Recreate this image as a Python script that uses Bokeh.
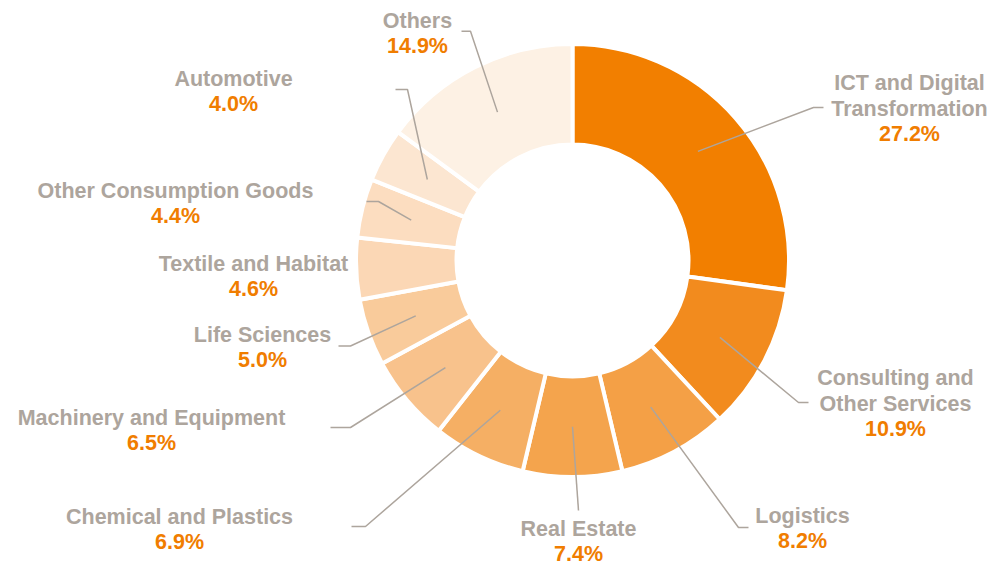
import math
from bokeh.plotting import figure
from bokeh.models import Range1d, ColumnDataSource
from bokeh.core.properties import value
from bokeh.embed import file_html
from bokeh.resources import INLINE

# ---- data ----
categories = ["ICT and Digital Transformation", "Consulting and Other Services", "Logistics",
              "Real Estate", "Chemical and Plastics", "Machinery and Equipment", "Life Sciences",
              "Textile and Habitat", "Other Consumption Goods", "Automotive", "Others"]
label_lines = [["ICT and Digital", "Transformation"], ["Consulting and", "Other Services"], ["Logistics"],
               ["Real Estate"], ["Chemical and Plastics"], ["Machinery and Equipment"], ["Life Sciences"],
               ["Textile and Habitat"], ["Other Consumption Goods"], ["Automotive"], ["Others"]]
shares = [27.2, 10.9, 8.2, 7.4, 6.9, 6.5, 5.0, 4.6, 4.4, 4.0, 14.9]
colors = ["#F27F00", "#F28B1E", "#F4A046", "#F4A44D", "#F5AF64", "#F8C28C", "#F9CB9B",
          "#FBD7B5", "#FCDDC0", "#FCE6D1", "#FDF1E4"]

# ---- layout (page pixel coordinates) ----
W, H = 993, 565
CX, CY = 572, 260
R_IN, R_OUT = 118, 214.5
# label: (center x, first line y); leader: elbow point and end point (None = none)
label_pos = [(909, 82), (895, 377), (802, 515), (578, 528), (179, 516), (151, 417),
             (262, 334), (253, 263), (175, 190), (233, 78), (417, 20)]
leader = [((813, 107), (823, 107)), ((798, 402), (808, 402)), ((738, 527), (748, 527)),
          ((578, 510), None), ((365, 526), (351, 526)), ((350, 427), (330, 427)),
          ((350, 345.5), (338, 345.5)), None, ((378, 201), (366, 201)),
          ((407, 89), (395, 89)), ((470, 30.7), (461, 30.7))]
LINE_SP = 26

def dx(x):
    return x

def dy(y):
    return H - y

GREY = "#ADA59D"
ORANGE = "#F07D00"

p = figure(width=W, height=H, output_backend="svg", toolbar_location=None,
           x_range=Range1d(0, W), y_range=Range1d(0, H), min_border=0)
p.axis.visible = False
p.grid.visible = False
p.outline_line_color = None
p.background_fill_color = "white"

total = sum(shares)
starts, ends, mids = [], [], []
cum = 0.0
for s in shares:
    a0 = math.pi / 2 - 2 * math.pi * cum / total
    cum += s
    a1 = math.pi / 2 - 2 * math.pi * cum / total
    starts.append(a0)
    ends.append(a1)
    mids.append((a0 + a1) / 2)

src = ColumnDataSource(dict(x=[dx(CX)] * len(shares), y=[dy(CY)] * len(shares),
                            start=starts, end=ends, color=colors))
p.annular_wedge(x="x", y="y", inner_radius=R_IN - 2, outer_radius=R_OUT + 2,
                start_angle="start", end_angle="end", direction="clock",
                fill_color="color", line_color="white", line_width=4, source=src)

# leader lines
xs, ys = [], []
r_mid = (R_IN + R_OUT) / 2
for i, ld in enumerate(leader):
    if ld is None:
        continue
    sx = CX + r_mid * math.cos(mids[i])
    sy = CY - r_mid * math.sin(mids[i])
    pts = [(sx, sy), ld[0]] + ([ld[1]] if ld[1] else [])
    xs.append([dx(q[0]) for q in pts])
    ys.append([dy(q[1]) for q in pts])
p.multi_line(xs=xs, ys=ys, line_color=GREY, line_width=1.5)

# labels
tx, ty, tt, tc = [], [], [], []
for i, lines in enumerate(label_lines):
    lx, ly = label_pos[i]
    for j, t in enumerate(lines):
        tx.append(dx(lx)); ty.append(dy(ly + j * LINE_SP)); tt.append(t); tc.append(GREY)
    tx.append(dx(lx)); ty.append(dy(ly + len(lines) * LINE_SP - 1)); tt.append(f"{shares[i]:.1f}%"); tc.append(ORANGE)

p.text(x=tx, y=ty, text=tt, text_color=tc, text_font=value("Liberation Sans"),
       text_font_style="bold", text_font_size="21.5px", text_align="center",
       text_baseline="middle")

open("out.html", "w").write(file_html(p, INLINE))
